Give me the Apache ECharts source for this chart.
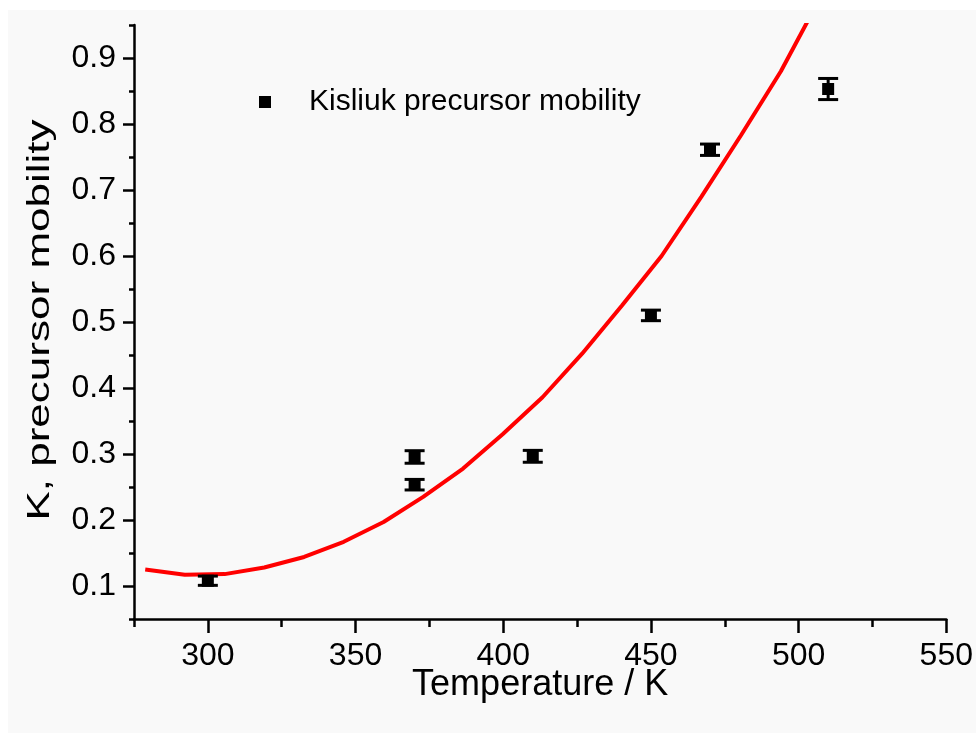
<!DOCTYPE html>
<html>
<head>
<meta charset="utf-8">
<script src="https://cdn.jsdelivr.net/npm/echarts@6/dist/echarts.min.js"></script>
<style>
  html, body { margin: 0; padding: 0; background: #ffffff; }
  #chart { position: absolute; left: 8px; top: 10px; width: 968px; height: 723px; }
</style>
</head>
<body>
<div id="chart"></div>
<script>
// measured points (Kisliuk precursor mobility)
const pointT = [300, 370, 370, 410, 450, 470, 510]
const pointK = [0.108, 0.2955, 0.2535, 0.2965, 0.51, 0.761, 0.853]
const pointErr = [0.007, 0.0095, 0.008, 0.009, 0.008, 0.0086, 0.016]

// model curve (red)
const curveT = [278.8, 292.2, 305.7, 319.1, 332.6, 346.0, 359.5, 372.9, 386.4, 399.8,
  413.3, 426.7, 440.2, 453.6, 467.1, 480.5, 494.0, 507.4]
const curveK = [0.125, 0.117, 0.118, 0.128, 0.144, 0.167, 0.197, 0.235, 0.278, 0.330,
  0.386, 0.452, 0.525, 0.600, 0.690, 0.783, 0.880, 0.992]

// tick values
const xMajor = [300, 350, 400, 450, 500, 550]
const xMinor = [275, 325, 375, 425, 475, 525]
const yMajor = [0.1, 0.2, 0.3, 0.4, 0.5, 0.6, 0.7, 0.8, 0.9]
const yMinor = [0.05, 0.15, 0.25, 0.35, 0.45, 0.55, 0.65, 0.75, 0.85, 0.95]

const FONT = 'Liberation Sans, Arial, sans-serif'
const axisColor = '#000000'

const chart = echarts.init(document.getElementById('chart'), null, { renderer: 'canvas' })

const baseX = {
  type: 'value',
  min: 275,
  max: 550,
  position: 'bottom',
  splitLine: { show: false }
}
const baseY = {
  type: 'value',
  min: 0.05,
  max: 0.95,
  position: 'left',
  splitLine: { show: false }
}

chart.setOption({
  backgroundColor: '#f9f9f9',
  animation: false,
  grid: { left: 126, right: 28, top: 15, bottom: 114, containLabel: false },
  legend: {
    left: 246,
    top: 72,
    icon: 'rect',
    itemWidth: 12,
    itemHeight: 12,
    data: ['Kisliuk precursor mobility'],
    textStyle: {
      fontFamily: FONT,
      fontSize: 30,
      lineHeight: 30,
      color: '#000',
      padding: [0, 0, 0, 33]
    }
  },
  xAxis: [
    Object.assign({}, baseX, {
      name: 'Temperature / K',
      nameLocation: 'middle',
      nameGap: 48,
      nameMoveOverlap: false,
      nameTextStyle: { fontFamily: FONT, fontSize: 36, color: '#000' },
      axisLine: { show: true, lineStyle: { color: axisColor, width: 2.5 } },
      axisTick: { show: true, customValues: xMajor, length: 14, lineStyle: { color: axisColor, width: 2.5 } },
      axisLabel: { customValues: xMajor, fontFamily: FONT, fontSize: 32, color: '#000', margin: 21 }
    }),
    Object.assign({}, baseX, {
      axisLine: { show: false },
      axisTick: { show: true, customValues: xMinor, length: 8, lineStyle: { color: axisColor, width: 2.5 } },
      axisLabel: { show: false }
    })
  ],
  yAxis: [
    Object.assign({}, baseY, {
      axisLine: { show: true, lineStyle: { color: axisColor, width: 2.5 } },
      axisTick: { show: true, customValues: yMajor, length: 11, lineStyle: { color: axisColor, width: 2.5 } },
      axisLabel: {
        customValues: yMajor,
        fontFamily: FONT,
        fontSize: 32,
        color: '#000',
        margin: 18,
        formatter: v => v.toFixed(1)
      }
    }),
    Object.assign({}, baseY, {
      axisLine: { show: false },
      axisTick: { show: true, customValues: yMinor, length: 5, lineStyle: { color: axisColor, width: 2.5 } },
      axisLabel: { show: false }
    })
  ],
  graphic: [
    {
      type: 'text',
      x: 32,
      y: 310,
      rotation: Math.PI / 2,
      scaleX: 1.42,
      style: {
        text: 'K, precursor mobility',
        fontFamily: FONT,
        fontSize: 31,
        fill: '#000',
        align: 'center',
        verticalAlign: 'middle'
      }
    }
  ],
  series: [
    {
      name: 'curve',
      type: 'line',
      data: curveT.map((t, i) => [t, curveK[i]]),
      showSymbol: false,
      symbol: 'none',
      smooth: false,
      clip: true,
      lineStyle: { color: '#ff0000', width: 4 },
      z: 2
    },
    {
      name: 'error',
      type: 'custom',
      data: pointT.map((t, i) => [t, pointK[i], pointErr[i]]),
      renderItem: (params, api) => {
        const x = api.value(0)
        const y = api.value(1)
        const e = api.value(2)
        const top = api.coord([x, y + e])
        const bot = api.coord([x, y - e])
        const hw = 10
        const style = { stroke: '#000', lineWidth: 3 }
        return {
          type: 'group',
          children: [
            { type: 'line', shape: { x1: top[0], y1: top[1], x2: bot[0], y2: bot[1] }, style },
            { type: 'line', shape: { x1: top[0] - hw, y1: top[1], x2: top[0] + hw, y2: top[1] }, style },
            { type: 'line', shape: { x1: bot[0] - hw, y1: bot[1], x2: bot[0] + hw, y2: bot[1] }, style }
          ]
        }
      },
      z: 3
    },
    {
      name: 'Kisliuk precursor mobility',
      type: 'scatter',
      data: pointT.map((t, i) => [t, pointK[i]]),
      symbol: 'rect',
      symbolSize: 12,
      itemStyle: { color: '#000', opacity: 1 },
      z: 4
    }
  ]
})
</script>
</body>
</html>
